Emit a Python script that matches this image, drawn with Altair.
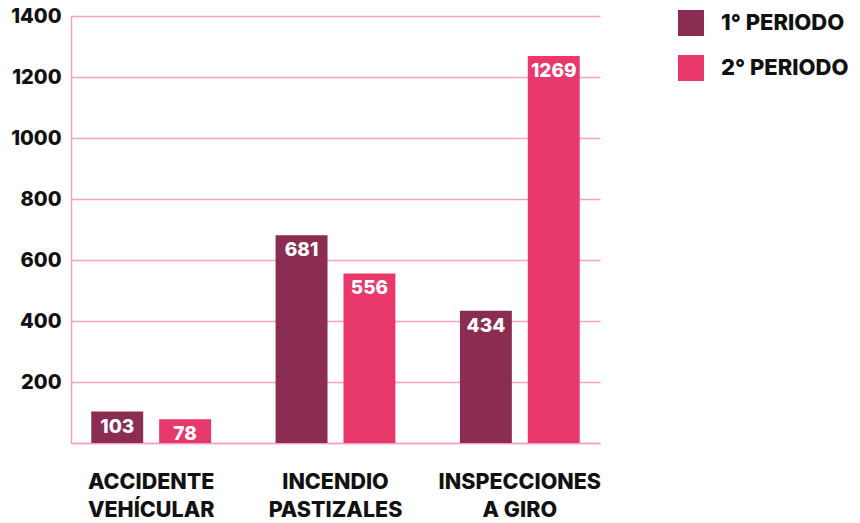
import altair as alt
import pandas as pd

categories = ["ACCIDENTE\nVEHÍCULAR", "INCENDIO\nPASTIZALES", "INSPECCIONES\nA GIRO"]
series = ["1° PERIODO", "2° PERIODO"]
periodo1 = [103, 681, 434]
periodo2 = [78, 556, 1269]
colors = ["#8B2C53", "#E8386C"]

rows = []
for c, a, b in zip(categories, periodo1, periodo2):
    rows.append({"cat": c, "serie": series[0], "valor": a})
    rows.append({"cat": c, "serie": series[1], "valor": b})
df = pd.DataFrame(rows)

FONT = "Inter"
W = 800
grid_color = "#F4A3C0"

x = alt.X("cat:N", sort=categories, title=None,
          scale=alt.Scale(paddingInner=0.35, paddingOuter=0.11),
          axis=alt.Axis(labelAngle=0, labelExpr="split(datum.value, '\\n')",
                        labelFont=FONT, labelFontSize=21.5, labelFontWeight=W,
                        labelColor="#111111", labelPadding=28, labelLineHeight=28,
                        labelBaseline="top",
                        domainColor=grid_color, domainWidth=1.5, ticks=False))
xoff = alt.XOffset("serie:N", sort=series,
                   scale=alt.Scale(paddingInner=0.235, paddingOuter=0))
y = alt.Y("valor:Q", title=None,
          scale=alt.Scale(domain=[0, 1400], nice=False),
          axis=alt.Axis(values=[0, 200, 400, 600, 800, 1000, 1200, 1400],
                        labelExpr="datum.value == 0 ? '' : datum.label",
                        format="d",
                        labelFont=FONT, labelFontSize=20, labelFontWeight=W,
                        labelColor="#111111", labelPadding=10,
                        gridColor=grid_color, gridWidth=1.5,
                        domainColor=grid_color, domainWidth=1.5, ticks=False))

color = alt.Color("serie:N", sort=series,
                  scale=alt.Scale(domain=series, range=colors),
                  legend=alt.Legend(title=None, orient="none", legendX=607, legendY=-6,
                                    symbolType="square", symbolSize=676,
                                    symbolStrokeWidth=0, symbolOpacity=1,
                                    labelFont=FONT, labelFontSize=22,
                                    labelFontWeight=W, labelColor="#111111",
                                    rowPadding=19, labelOffset=17))

bars = alt.Chart(df).mark_bar(opacity=1).encode(x=x, xOffset=xoff, y=y, color=color)
labels = alt.Chart(df).mark_text(baseline="top", dy=6, color="white",
                                 font=FONT, fontSize=19, fontWeight=W).encode(
    x=alt.X("cat:N", sort=categories),
    xOffset=alt.XOffset("serie:N", sort=series),
    y="valor:Q", text="valor:Q")

chart = (bars + labels).properties(
    width=529, height=427,
    autosize=alt.AutoSizeParams(type="none"),
    padding={"left": 71, "top": 16, "right": 260, "bottom": 80},
    background="white",
).configure_view(stroke=None)

chart.save("out.html", embed_options={"renderer": "svg", "actions": False})
